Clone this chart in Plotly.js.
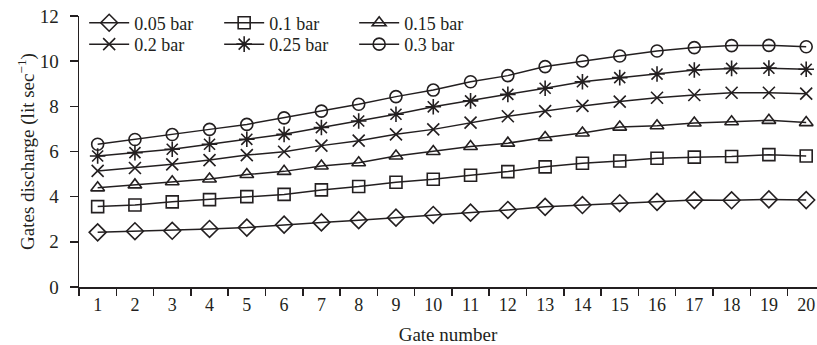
<!DOCTYPE html>
<html>
<head>
<meta charset="utf-8">
<script src="https://cdn.plot.ly/plotly-3.0.1.min.js"></script>
<style>html,body{margin:0;padding:0;background:#fff;}#chart{width:817px;height:345px;}</style>
</head>
<body>
<div id="chart"></div>
<script>
const gates = ['1','2','3','4','5','6','7','8','9','10','11','12','13','14','15','16','17','18','19','20'];
const seriesNames = ['0.05 bar','0.1 bar','0.15 bar','0.2 bar','0.25 bar','0.3 bar'];
const bar005 = [2.42,2.47,2.49,2.57,2.63,2.76,2.86,2.96,3.07,3.19,3.29,3.41,3.55,3.63,3.71,3.77,3.85,3.84,3.88,3.85];
const bar010 = [3.56,3.63,3.77,3.87,4.0,4.1,4.3,4.45,4.64,4.77,4.95,5.11,5.32,5.48,5.58,5.7,5.75,5.78,5.86,5.8];
const bar015 = [4.39,4.52,4.66,4.78,4.98,5.12,5.36,5.5,5.8,6.0,6.22,6.37,6.62,6.82,7.08,7.14,7.26,7.32,7.38,7.28];
const bar020 = [5.14,5.27,5.43,5.62,5.84,5.99,6.26,6.48,6.76,6.98,7.28,7.56,7.79,8.02,8.21,8.38,8.5,8.6,8.6,8.56];
const bar025 = [5.8,5.95,6.1,6.32,6.54,6.76,7.06,7.35,7.65,7.98,8.24,8.53,8.8,9.09,9.27,9.43,9.61,9.68,9.69,9.64];
const bar030 = [6.32,6.53,6.75,6.98,7.2,7.49,7.79,8.09,8.43,8.72,9.09,9.36,9.76,10.01,10.23,10.45,10.6,10.69,10.7,10.64];

const values = [bar005,bar010,bar015,bar020,bar025,bar030];
const symbols = ['diamond-open','square-open','triangle-up-open','x-thin-open','asterisk-open','circle-open'];
const sizes = [13,12,12,12,13,12];
const legends = ['legend','legend','legend','legend2','legend2','legend2'];
const ink = '#231f20';
const F = (s) => ({family:'Liberation Serif', size:s, color:ink});

const traces = values.map((v,i)=>({
  x: gates, y: v, name: seriesNames[i], type:'scatter', mode:'lines+markers',
  line:{color:ink, width:1.5},
  marker:{symbol:symbols[i], size:sizes[i], color:ink, line:{color:ink, width:1.6}},
  legend: legends[i], cliponaxis:false
}));

function legendCfg(y){
  return {orientation:'h', xanchor:'left', yanchor:'middle', x:0.007, y:y, bgcolor:'rgba(0,0,0,0)',
    font:F(18), entrywidth:80, entrywidthmode:'pixels', itemwidth:40, borderwidth:0};
}

const layout = {
  width:817, height:345,
  margin:{l:79, r:0, t:16, b:58},
  paper_bgcolor:'#fff', plot_bgcolor:'#fff',
  font:F(19),
  showlegend:true,
  legend: legendCfg(0.974),
  legend2: legendCfg(0.895),
  xaxis:{
    type:'category', range:[-0.5,19.29], showgrid:false, zeroline:false,
    showline:true, linecolor:ink, linewidth:1.5,
    ticks:'outside', tickson:'boundaries', ticklen:7, tickwidth:1.5, tickcolor:ink,
    ticklabelstandoff:1,
    tickfont:F(18), fixedrange:true,
    title:{text:'Gate number', font:F(19), standoff:13}
  },
  yaxis:{
    range:[0,12], dtick:2, showgrid:false, zeroline:false,
    showline:true, linecolor:ink, linewidth:1.5,
    ticks:'outside', ticklen:8, tickwidth:1.5, tickcolor:ink,
    ticklabelstandoff:7,
    tickfont:F(19), fixedrange:true,
    title:{text:'Gates discharge (lit sec<sup>\u22121</sup>)', font:F(19), standoff:0}
  }
};

Plotly.newPlot('chart', traces, layout, {displayModeBar:false, staticPlot:true});
</script>
</body>
</html>
